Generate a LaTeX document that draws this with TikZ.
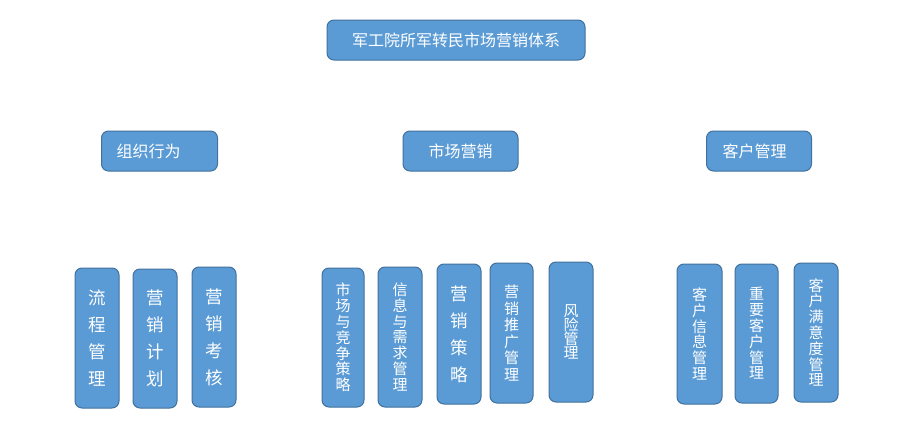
\documentclass[tikz,border=0pt]{standalone}
\usepackage{fontspec}
\setmainfont{Noto Sans CJK SC}
\definecolor{boxfill}{HTML}{5B9BD5}
\definecolor{boxline}{HTML}{41719C}
\begin{document}
\begin{tikzpicture}[x=1pt,y=-1pt,
  base/.style={draw=boxline, fill=boxfill, line width=1pt, rounded corners=7pt, text=white, inner sep=0pt},
  hbox/.style={base, minimum height=40pt, font=\fontsize{16}{18}\selectfont},
  vbig/.style={base, minimum width=44pt, align=center, font=\fontsize{17.5}{27}\selectfont},
  vsmall/.style={base, minimum width=43pt, align=center, font=\fontsize{15}{15.8}\selectfont}]
\useasboundingbox[fill=white] (0,0) rectangle (908,447);
% top
\node[hbox, minimum width=258pt] (top) at (456,40) {军工院所军转民市场营销体系};
% second level
\node[hbox, anchor=west, minimum width=116pt, inner xsep=15pt, text width=86pt] (zz) at (101,151) {组织行为};
\node[hbox, minimum width=115pt] (sc) at (460.5,151) {市场营销};
\node[hbox, anchor=west, minimum width=105pt, inner xsep=16pt, text width=73pt] (kh) at (706,151) {客户管理};
% third level - group 1
\node[vbig, minimum height=140pt] (a1) at (97,338) {流\\程\\管\\理};
\node[vbig, minimum height=139pt] (a2) at (155,338.5) {营\\销\\计\\划};
\node[vbig, minimum height=140pt] (a3) at (214,337) {营\\销\\考\\核};
% group 2
\node[vsmall, minimum width=42pt, minimum height=139pt] (b1) at (343,337.5) {市\\场\\与\\竞\\争\\策\\略};
\node[vsmall, minimum width=44pt, minimum height=140pt] (b2) at (400,337) {信\\息\\与\\需\\求\\管\\理};
\node[vbig, minimum height=140pt] (b3) at (459,334) {营\\销\\策\\略};
\node[vsmall, minimum width=43pt, minimum height=140pt, font=\fontsize{15}{16.5}\selectfont] (b4) at (511.5,333) {营\\销\\推\\广\\管\\理};
\node[vsmall, minimum width=44pt, minimum height=140pt, font=\fontsize{15}{14}\selectfont] (b5) at (571,332) {风\\险\\管\\理};
% group 3
\node[vsmall, minimum width=45pt, minimum height=140pt] (c1) at (699.5,334) {客\\户\\信\\息\\管\\理};
\node[vsmall, minimum width=43pt, minimum height=139pt] (c2) at (756.5,333.5) {重\\要\\客\\户\\管\\理};
\node[vsmall, minimum width=44pt, minimum height=139pt] (c3) at (816,332.5) {客\\户\\满\\意\\度\\管\\理};
\end{tikzpicture}
\end{document}
